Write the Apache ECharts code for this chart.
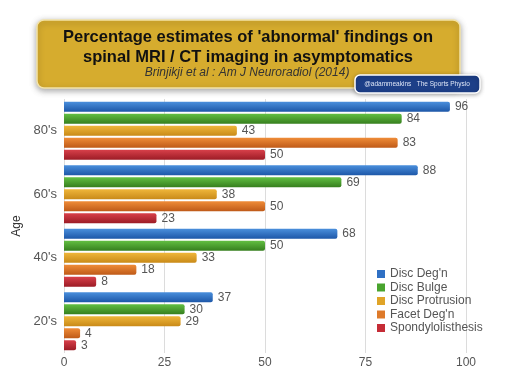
<!DOCTYPE html>
<html>
<head>
<meta charset="utf-8">
<script src="https://cdn.jsdelivr.net/npm/echarts@6/dist/echarts.min.js"></script>
<style>
html,body{margin:0;padding:0;background:#fff;}
#c{width:527px;height:383px;}
</style>
</head>
<body>
<div id="c"></div>
<script>
var categories = ["80's", "60's", "40's", "20's"];
var seriesNames = ["Disc Deg'n", "Disc Bulge", "Disc Protrusion", "Facet Deg'n", "Spondylolisthesis"];
var discDeg = [96, 88, 68, 37];
var discBulge = [84, 69, 50, 30];
var discProtrusion = [43, 38, 33, 29];
var facetDeg = [83, 50, 18, 4];
var spondylolisthesis = [50, 23, 8, 3];
var xTicks = [0, 25, 50, 75, 100];

var seriesData = [discDeg, discBulge, discProtrusion, facetDeg, spondylolisthesis];
var colorsTop = ['#4a8fdc', '#62bf42', '#efb63a', '#ef8c38', '#d8404a'];
var colorsBot = ['#1d57a8', '#367f1e', '#c98a18', '#bf5a18', '#9c1c26'];
var legendColors = ['#2f70c4', '#49a42e', '#e0a428', '#de7a2a', '#c52c36'];

var chart = echarts.init(document.getElementById('c'), null, {renderer: 'canvas'});

var series = seriesNames.map(function (n, i) {
  return {
    name: n,
    type: 'bar',
    data: seriesData[i],
    barWidth: 10,
    barGap: '20%',
    itemStyle: {
      color: new echarts.graphic.LinearGradient(0, 0, 0, 1, [
        {offset: 0, color: colorsTop[i]},
        {offset: 1, color: colorsBot[i]}
      ]),
      borderRadius: [0, 2, 2, 0]
    },
    label: {
      show: true,
      position: 'right',
      distance: 5,
      color: '#555',
      fontSize: 12,
      fontFamily: 'Liberation Sans'
    }
  };
});

var option = {
  animation: false,
  backgroundColor: '#fff',
  color: legendColors,
  grid: {left: 64, right: 61, top: 99, bottom: 30, containLabel: false},
  legend: {
    orient: 'vertical',
    left: 372,
    top: 263,
    itemWidth: 8,
    itemHeight: 8,
    itemGap: 1.5,
    icon: 'rect',
    textStyle: {color: '#555', fontSize: 12, fontFamily: 'Liberation Sans', padding: [0, 0, 0, 0]},
    data: seriesNames.map(function (n, i) { return {name: n, itemStyle: {color: legendColors[i]}}; })
  },
  xAxis: {
    type: 'value',
    min: xTicks[0],
    max: xTicks[xTicks.length - 1],
    interval: 25,
    axisLine: {show: false},
    axisTick: {show: false},
    axisLabel: {color: '#555', fontSize: 12, fontFamily: 'Liberation Sans', margin: 4},
    splitLine: {show: true, lineStyle: {color: '#dcdcdc', width: 1}}
  },
  yAxis: {
    type: 'category',
    data: categories,
    inverse: true,
    name: 'Age',
    nameLocation: 'middle',
    nameRotate: 90,
    nameGap: 33,
    nameTextStyle: {color: '#333', fontSize: 12, fontFamily: 'Liberation Sans'},
    axisLine: {show: false},
    axisTick: {show: false},
    axisLabel: {color: '#555', fontSize: 13, fontFamily: 'Liberation Sans', margin: 7}
  },
  graphic: [
    {
      type: 'rect',
      shape: {x: 37, y: 20, width: 423, height: 68, r: 7},
      style: {fill: '#d6ac2e', stroke: '#f3e3a8', lineWidth: 1.5, shadowBlur: 6, shadowColor: 'rgba(0,0,0,0.35)', shadowOffsetY: 2},
      z: 10
    },
    {
      type: 'text',
      x: 248, y: 37,
      style: {text: "Percentage estimates of 'abnormal' findings on", fill: '#111', font: 'bold 16.5px "Liberation Sans"', align: 'center', verticalAlign: 'middle'},
      z: 11
    },
    {
      type: 'text',
      x: 248, y: 57,
      style: {text: 'spinal MRI / CT imaging in asymptomatics', fill: '#111', font: 'bold 16.5px "Liberation Sans"', align: 'center', verticalAlign: 'middle'},
      z: 11
    },
    {
      type: 'text',
      x: 247, y: 73,
      style: {text: 'Brinjikji et al : Am J Neuroradiol (2014)', fill: '#333', font: 'italic 12px "Liberation Sans"', align: 'center', verticalAlign: 'middle'},
      z: 11
    },
    {
      type: 'rect',
      shape: {x: 355, y: 75, width: 125, height: 18, r: 5},
      style: {fill: '#1d3f88', stroke: '#ffffff', lineWidth: 1.5, shadowBlur: 4, shadowColor: 'rgba(0,0,0,0.3)', shadowOffsetY: 1},
      z: 12
    },
    {
      type: 'text',
      x: 417, y: 84,
      style: {text: '@adammeakins   The Sports Physio', fill: '#dfe6f6', font: '6.5px "Liberation Sans"', align: 'center', verticalAlign: 'middle'},
      z: 13
    }
  ],
  series: series
};
chart.setOption(option);
</script>
</body>
</html>
